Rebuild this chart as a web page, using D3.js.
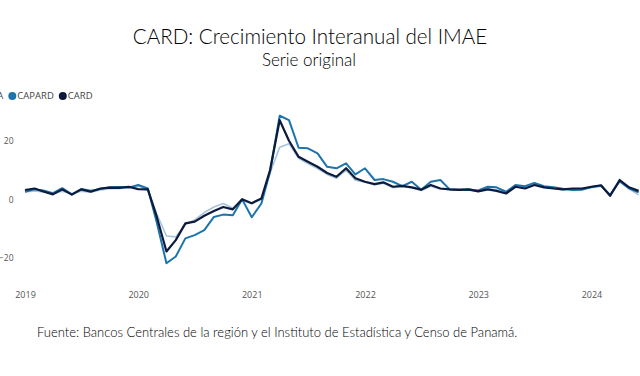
<!DOCTYPE html>
<html>
<head>
<meta charset="utf-8">
<script src="https://cdn.jsdelivr.net/npm/d3@7"></script>
<style>
  body { margin: 0; background: #fff; }
  svg { display: block; }
</style>
</head>
<body>
<div id="chart"></div>
<script>
// Monthly series, Jan 2019 - Jun 2024 (year-on-year growth, %)
const startMonth = new Date(2019, 0, 1);
const seriesNames = ['CA', 'CAPARD', 'CARD'];
const caValues = [
    2.5, 2.9, 2.5, 2.0, 2.8, 1.9, 2.8, 2.4, 3.2, 3.6, 3.7, 3.9,
    4.6, 3.0, -5.0, -12.5, -12.8, -8.5, -7.0, -4.5, -2.6, -1.4, -3.0, -0.3,
    -1.5, 0.0, 9.0, 17.8, 19.0, 14.0, 12.2, 10.5, 8.5, 7.2, 10.0, 6.5,
    5.8, 5.0, 5.5, 4.0, 4.3, 4.0, 3.0, 4.5, 3.5, 3.5, 3.4, 3.6,
    3.0, 3.6, 3.3, 2.5, 4.6, 4.0, 5.0, 4.3, 3.8, 3.2, 3.4, 3.5,
    4.0, 4.5, 1.5, 6.0, 3.6, 1.5
];
const capardValues = [
    2.6, 3.4, 3.0, 2.1, 3.8, 1.7, 3.5, 2.9, 3.5, 4.1, 4.2, 4.0,
    4.9, 3.7, -8.0, -21.8, -19.5, -13.3, -12.2, -10.5, -6.0, -5.2, -5.4, 0.0,
    -6.1, -1.4, 9.4, 28.5, 27.0, 17.6, 17.4, 15.7, 11.1, 10.6, 12.3, 8.5,
    10.6, 6.6, 6.9, 6.0, 4.5, 6.0, 3.3, 6.0, 6.6, 3.4, 3.3, 3.2,
    3.0, 4.3, 4.1, 2.6, 4.9, 4.5, 5.6, 4.5, 4.1, 3.6, 3.2, 3.3,
    4.2, 4.6, 1.5, 6.2, 3.8, 2.4
];
const cardValues = [
    3.2, 3.7, 2.7, 1.7, 3.4, 1.6, 3.4, 2.6, 3.7, 4.0, 3.9, 4.3,
    3.5, 3.4, -6.0, -17.8, -13.9, -8.2, -7.6, -5.6, -4.0, -2.6, -3.4, 0.0,
    -1.3, 0.3, 10.0, 27.0, 20.0, 14.5, 12.8, 11.1, 9.0, 7.7, 10.6, 7.2,
    6.0, 5.2, 5.8, 4.3, 4.6, 4.1, 3.3, 4.9, 3.7, 3.4, 3.2, 3.4,
    2.7, 3.4, 2.9, 2.0, 4.3, 3.7, 4.9, 4.1, 3.7, 3.4, 3.7, 3.7,
    4.3, 4.8, 1.2, 6.6, 4.1, 2.9
];
const yTicks = [-20, 0, 20];
const yearTicks = [2019, 2020, 2021, 2022, 2023, 2024];

const width = 640;
const height = 376;

const svg = d3.select('#chart')
    .append('svg')
    .attr('width', width)
    .attr('height', height)
    .style('font-family', 'Lato, "Open Sans", sans-serif');

const months = cardValues.map((d, i) => d3.timeMonth.offset(startMonth, i));

const x = d3.scaleTime()
    .domain([months[0], months[months.length - 1]])
    .range([25, 638.6]);

const y = d3.scaleLinear()
    .domain([-20, 20])
    .range([258.0, 140.7]);

const series = [
    { name: 'CA', values: caValues, color: '#a9c3dd', width: 1.6 },
    { name: 'CAPARD', values: capardValues, color: '#1c74aa', width: 2 },
    { name: 'CARD', values: cardValues, color: '#0c1b3d', width: 2.2 }
];

// Titles
svg.append('text')
    .attr('x', 310)
    .attr('y', 44)
    .attr('text-anchor', 'middle')
    .style('font-size', '20.6px')
    .style('font-weight', 300)
    .style('fill', '#000')
    .text('CARD: Crecimiento Interanual del IMAE');

svg.append('text')
    .attr('x', 309)
    .attr('y', 66)
    .attr('text-anchor', 'middle')
    .style('font-size', '17px')
    .style('font-weight', 300)
    .style('fill', '#000')
    .text('Serie original');

// Axes (labels only)
const yAxis = svg.append('g')
    .attr('transform', 'translate(13.5,0)')
    .call(d3.axisLeft(y).tickValues(yTicks).tickSize(0).tickPadding(0));
yAxis.select('.domain').remove();
yAxis.selectAll('text')
    .style('font-size', '8.5px')
    .style('fill', '#555')
    .style('font-family', '"Open Sans", sans-serif');

const xAxis = svg.append('g')
    .attr('transform', 'translate(0,292)')
    .call(d3.axisBottom(x)
        .tickValues(yearTicks.map(yr => new Date(yr, 0, 1)))
        .tickFormat(d3.timeFormat('%Y'))
        .tickSize(0)
        .tickPadding(0));
xAxis.select('.domain').remove();
xAxis.selectAll('text')
    .style('font-size', '9px')
    .style('fill', '#555')
    .style('font-family', '"Open Sans", sans-serif');

// Lines
const line = d3.line()
    .x((d, i) => x(months[i]))
    .y(d => y(d));

svg.selectAll('.series')
    .data(series)
    .enter()
    .append('path')
    .attr('class', 'series')
    .attr('d', d => line(d.values))
    .attr('fill', 'none')
    .attr('stroke', d => d.color)
    .attr('stroke-width', d => d.width)
    .attr('stroke-linejoin', 'round');

// Legend (first item is cut off by the left edge, as in the source)
const legend = svg.append('g')
    .attr('class', 'legend')
    .style('font-family', '"Open Sans", sans-serif')
    .style('font-size', '9.5px');

const legendY = 96;
const items = legend.selectAll('g')
    .data(series)
    .enter()
    .append('g');
items.append('circle')
    .attr('r', 4)
    .attr('cy', legendY)
    .attr('fill', d => d.color);
items.append('text')
    .attr('y', legendY)
    .attr('dy', '0.35em')
    .attr('x', 5)
    .style('fill', '#444')
    .text(d => d.name);

// lay out items so CAPARD's marker sits at x = 12
const widths = [];
items.each(function() {
    widths.push(this.querySelector('text').getComputedTextLength() + 5 + 9);
});
let pos = 12.3 - widths[0];
items.attr('transform', (d, i) => {
    const t = `translate(${pos},0)`;
    pos += widths[i];
    return t;
});

// Source note
svg.append('text')
    .attr('x', 37)
    .attr('y', 337)
    .style('font-size', '13px')
    .style('font-weight', 300)
    .style('fill', '#000')
    .text('Fuente: Bancos Centrales de la región y el Instituto de Estadística y Censo de Panamá.');
</script>
</body>
</html>
